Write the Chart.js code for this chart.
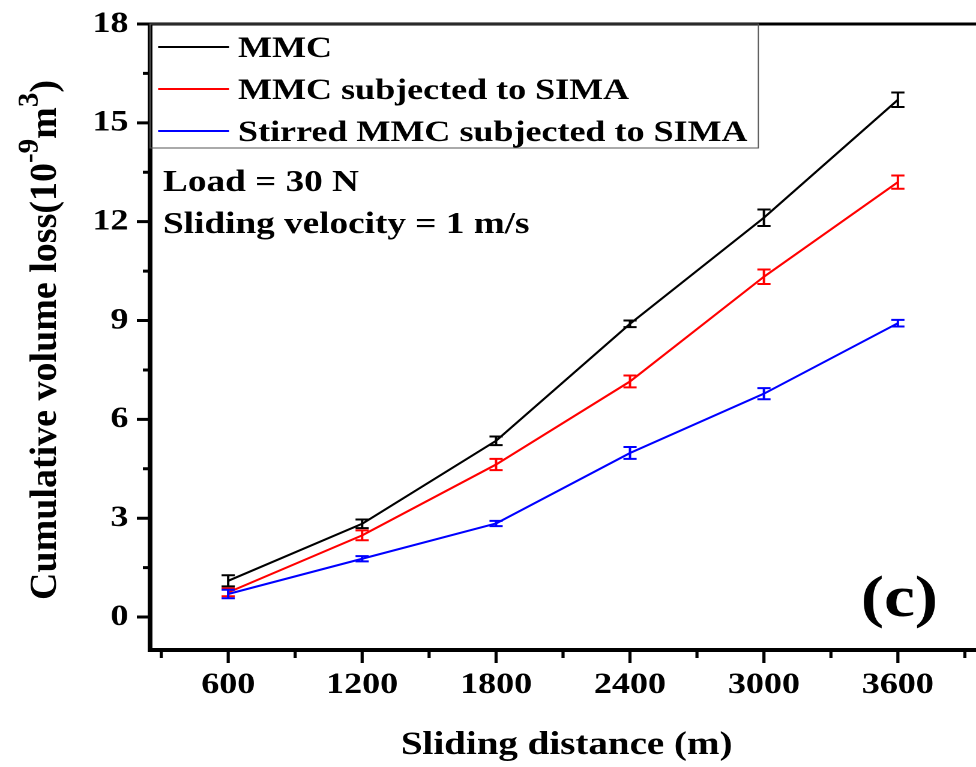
<!DOCTYPE html>
<html>
<head>
<meta charset="utf-8">
<script src="https://cdn.jsdelivr.net/npm/chart.js@4/dist/chart.umd.min.js"></script>
<style>
  html, body { margin: 0; padding: 0; background: #fff; overflow: hidden; }
  canvas { display: block; }
</style>
</head>
<body>
<!-- the figure is horizontally stretched: draw at 813 wide, show at 976 -->
<canvas id="chart1" width="813" height="767" style="width:976px;height:767px"></canvas>
<script>
const SX = 976 / 813;
const FONT = '"Liberation Serif", "Times New Roman", serif';

const distances = [600, 1200, 1800, 2400, 3000, 3600];

const mmcLoss = [1.1, 2.83, 5.35, 8.9, 12.12, 15.7];
const mmcErr = [0.17, 0.13, 0.13, 0.1, 0.25, 0.22];

const simaLoss = [0.75, 2.48, 4.63, 7.15, 10.33, 13.2];
const simaErr = [0.12, 0.15, 0.17, 0.18, 0.22, 0.2];

const stirredLoss = [0.7, 1.77, 2.84, 4.98, 6.78, 8.92];
const stirredErr = [0.13, 0.08, 0.08, 0.18, 0.17, 0.1];

const seriesNames = ['MMC', 'MMC subjected to SIMA', 'Stirred MMC subjected to SIMA'];
const seriesColors = ['#000000', '#ff0000', '#0000ff'];

const xMajorTicks = [600, 1200, 1800, 2400, 3000, 3600];
const xMinorTicks = [300, 900, 1500, 2100, 2700, 3300, 3900];
const yMajorTicks = [0, 3, 6, 9, 12, 15, 18];
const yMinorTicks = [1.5, 4.5, 7.5, 10.5, 13.5, 16.5];

const notes = ['Load = 30 N', 'Sliding velocity = 1 m/s'];
const panelLabel = '(c)';
const xTitle = 'Sliding distance (m)';
const yTitleParts = [
  { text: 'Cumulative volume loss(10', sup: false },
  { text: '-9', sup: true },
  { text: 'm', sup: false },
  { text: '3', sup: true },
  { text: ')', sup: false }
];

function makeSeries(values, errs, i) {
  return {
    label: seriesNames[i],
    data: distances.map((d, j) => ({ x: d, y: values[j] })),
    errors: errs,
    borderColor: seriesColors[i],
    backgroundColor: seriesColors[i],
    borderWidth: 2,
    pointRadius: 0,
    tension: 0,
    order: 3 - i
  };
}

// axes frame + tick marks
const axesFrame = {
  id: 'axesFrame',
  afterDraw(chart) {
    const { ctx, chartArea: a, scales: { x, y } } = chart;
    ctx.save();
    ctx.strokeStyle = '#000';
    ctx.lineWidth = 3;
    ctx.beginPath();
    ctx.moveTo(a.left, a.top);
    ctx.lineTo(a.right + 2, a.top);
    ctx.stroke();

    ctx.lineWidth = 4;
    ctx.beginPath();
    ctx.moveTo(a.left, a.top - 1.5);
    ctx.lineTo(a.left, a.bottom);
    ctx.lineTo(a.right + 2, a.bottom);
    ctx.stroke();

    ctx.lineWidth = 2.6;
    ctx.beginPath();
    xMajorTicks.forEach(v => {
      const px = x.getPixelForValue(v);
      ctx.moveTo(px, a.bottom); ctx.lineTo(px, a.bottom + 13);
    });
    xMinorTicks.forEach(v => {
      const px = x.getPixelForValue(v);
      ctx.moveTo(px, a.bottom); ctx.lineTo(px, a.bottom + 8);
    });
    ctx.stroke();

    ctx.lineWidth = 3;
    ctx.beginPath();
    yMajorTicks.forEach(v => {
      const py = y.getPixelForValue(v);
      ctx.moveTo(a.left, py); ctx.lineTo(a.left - 11, py);
    });
    yMinorTicks.forEach(v => {
      const py = y.getPixelForValue(v);
      ctx.moveTo(a.left, py); ctx.lineTo(a.left - 6, py);
    });
    ctx.stroke();
    ctx.restore();
  }
};

const errorBars = {
  id: 'errorBars',
  afterDatasetsDraw(chart) {
    const { ctx, scales: { x, y } } = chart;
    chart.data.datasets.forEach(ds => {
      ctx.save();
      ctx.strokeStyle = ds.borderColor;
      ctx.lineWidth = 2;
      ds.data.forEach((p, i) => {
        const px = x.getPixelForValue(p.x);
        const top = y.getPixelForValue(p.y + ds.errors[i]);
        const bot = y.getPixelForValue(p.y - ds.errors[i]);
        ctx.beginPath();
        ctx.moveTo(px, top); ctx.lineTo(px, bot);
        ctx.moveTo(px - 5.5, top); ctx.lineTo(px + 5.5, top);
        ctx.moveTo(px - 5.5, bot); ctx.lineTo(px + 5.5, bot);
        ctx.stroke();
      });
      ctx.restore();
    });
  }
};

// legend box, notes, panel letter and axis titles
const annotations = {
  id: 'annotations',
  afterDraw(chart) {
    const { ctx, chartArea: a } = chart;
    ctx.save();

    ctx.strokeStyle = '#555';
    ctx.lineWidth = 1;
    ctx.strokeRect(a.left, a.top, 631.7 - a.left, 124);

    ctx.fillStyle = '#000';
    ctx.textAlign = 'left';
    ctx.textBaseline = 'alphabetic';
    ctx.font = 'bold 30px ' + FONT;
    chart.data.datasets.forEach((ds, i) => {
      const rowY = 47 + i * 42;
      ctx.strokeStyle = ds.borderColor;
      ctx.lineWidth = 2;
      ctx.beginPath();
      ctx.moveTo(131.7, rowY); ctx.lineTo(190.8, rowY);
      ctx.stroke();
      ctx.fillText(ds.label, 198.3, rowY + 10);
    });

    ctx.font = 'bold 31px ' + FONT;
    ctx.fillText(notes[0], 135.8, 191);
    ctx.fillText(notes[1], 135.8, 233);

    ctx.font = 'bold 58px ' + FONT;
    ctx.fillText(panelLabel, 717, 616);

    ctx.font = 'bold 32.5px ' + FONT;
    ctx.textAlign = 'center';
    ctx.fillText(xTitle, (a.left + a.right) / 2 + 3, 754);

    // y title is not stretched in the figure, undo the canvas stretch
    ctx.scale(1 / SX, 1);
    ctx.translate(56, 340);
    ctx.rotate(-Math.PI / 2);
    ctx.textAlign = 'left';
    const mainFont = 'bold 38px ' + FONT;
    const supFont = 'bold 29px ' + FONT;
    let total = 0;
    yTitleParts.forEach(p => {
      ctx.font = p.sup ? supFont : mainFont;
      total += ctx.measureText(p.text).width;
    });
    let cx = -total / 2;
    yTitleParts.forEach(p => {
      ctx.font = p.sup ? supFont : mainFont;
      ctx.fillText(p.text, cx, p.sup ? -18 : 0);
      cx += ctx.measureText(p.text).width;
    });
    ctx.restore();
  }
};

const tickFont = { family: FONT, size: 30, weight: 'bold' };

function noPadding(s) {
  s.paddingTop = 0;
  s.paddingBottom = 0;
  s.paddingLeft = 0;
  s.paddingRight = 0;
}

const chart1 = new Chart(document.getElementById('chart1').getContext('2d'), {
  type: 'line',
  data: {
    datasets: [
      makeSeries(mmcLoss, mmcErr, 0),
      makeSeries(simaLoss, simaErr, 1),
      makeSeries(stirredLoss, stirredErr, 2)
    ]
  },
  options: {
    responsive: false,
    animation: false,
    devicePixelRatio: 2,
    layout: { padding: { top: 24, left: 0, right: 0, bottom: 0 } },
    plugins: {
      legend: { display: false },
      tooltip: { enabled: false }
    },
    scales: {
      x: {
        type: 'linear',
        min: 250,
        max: 3950,
        afterBuildTicks: s => { s.ticks = xMajorTicks.concat(xMinorTicks).sort((p, q) => p - q).map(v => ({ value: v })); },
        afterFit: s => { s.height = 117; noPadding(s); },
        grid: { display: false, drawTicks: false },
        border: { display: false },
        ticks: {
          autoSkip: false,
          maxRotation: 0,
          padding: 17,
          color: '#000',
          font: tickFont,
          callback: v => xMajorTicks.includes(v) ? String(v) : ''
        }
      },
      y: {
        type: 'linear',
        min: -1,
        max: 18,
        afterBuildTicks: s => { s.ticks = yMajorTicks.concat(yMinorTicks).sort((p, q) => p - q).map(v => ({ value: v })); },
        afterFit: s => { s.width = 125; noPadding(s); },
        grid: { display: false, drawTicks: false },
        border: { display: false },
        ticks: {
          autoSkip: false,
          padding: 18,
          color: '#000',
          font: tickFont,
          callback: v => yMajorTicks.includes(v) ? String(v) : ''
        }
      }
    }
  },
  plugins: [errorBars, axesFrame, annotations]
});
</script>
</body>
</html>
